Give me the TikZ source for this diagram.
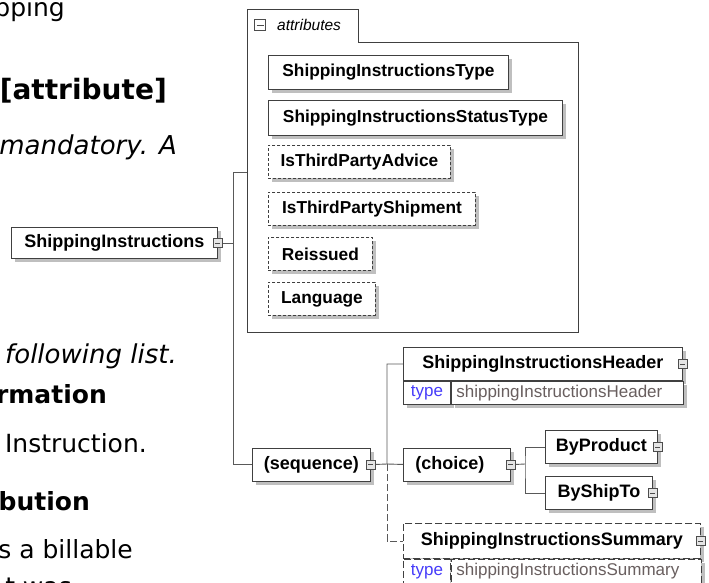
\documentclass[tikz,border=0pt]{standalone}
\usepackage{fontspec}
\usepackage{tikz}
\usetikzlibrary{calc,shadows}
\newfontfamily\docfont{DejaVu Sans}
\newfontfamily\xsfont{Liberation Sans}
\def\px#1{\fontsize{#1}{#1}\selectfont}
\definecolor{typeblue}{RGB}{70,60,250}
\definecolor{valgray}{RGB}{105,95,95}
\tikzset{
	txt/.style={anchor=base east, inner sep=0pt, font=\docfont\px{25}},
	elem/.style={draw=black!75, fill=white, line width=0.9pt, inner sep=0pt, anchor=north west, font=\xsfont\bfseries\px{18},
		drop shadow={shadow xshift=4pt, shadow yshift=-4pt, fill=black!25, opacity=1}},
	attr/.style={elem, font=\xsfont\bfseries\px{17.3}},
	opt/.style={dash pattern=on 3pt off 2pt},
	optlong/.style={dash pattern=on 7pt off 3pt},
	tcell/.style={elem, font=\xsfont\px{17}},
	minusbox/.style={draw=black!70, line width=0.6pt, inner sep=0pt,
		path picture={\draw[black!70, line width=0.6pt] ([xshift=2pt]path picture bounding box.west) -- ([xshift=-2pt]path picture bounding box.east);}},
	sq/.style={minusbox, fill=black!10, minimum size=9pt},
	conn/.style={draw=black!65, line width=0.9pt}
}

\begin{document}
\begin{tikzpicture}[x=1pt, y=-1pt]
			%%%%% START %%%%%
			\useasboundingbox (0,0) rectangle (709,583);
			
			\node[txt] (tpping) at (65,17) {pping};
			\node[txt, font=\docfont\bfseries\px{28}] (tattr) at (167,100) {[attribute]};
			\node[txt, font=\docfont\itshape\px{26}] (tmand) at (177,154) {mandatory. A};
			\node[txt, font=\docfont\itshape\px{26}] (tlist) at (177,363) {following list.};
			\node[txt, font=\docfont\bfseries\px{25}] (tinfo) at (107,403) {rmation};
			\node[txt] (tinstr) at (147,452) {Instruction.};
			\node[txt, font=\docfont\bfseries\px{25}] (tdistr) at (90,510) {bution};
			\node[txt] (tbill) at (133,558) {s a billable};
			\node[txt] (twas) at (72,595) {t was};
			
			\node[elem, minimum width=206pt, minimum height=31pt] (root) at (11,227) {ShippingInstructions};
			\node[sq] (rootsq) at (root.east) {};
			
			\draw[line width=0.9pt, draw=black!75] (247,332) -- (247,9) -- (358,9) -- (358,42) -- (578,42) -- (578,332) -- cycle;
			\node[minusbox, fill=white, minimum size=11pt] (fold) at (260,25) {};
			\node[anchor=west, inner sep=0pt, font=\xsfont\itshape\px{15.5}] (attlbl) at (277,25) {attributes};
			
			\node[attr, minimum width=240pt, minimum height=34pt] (atype) at (268,55) {ShippingInstructionsType};
			\node[attr, minimum width=294pt, minimum height=35pt] (astatus) at (268,100) {ShippingInstructionsStatusType};
			\node[attr, opt, minimum width=182pt, minimum height=33pt] (aadvice) at (268,145) {IsThirdPartyAdvice};
			\node[attr, opt, minimum width=207pt, minimum height=33pt] (aship) at (268,192) {IsThirdPartyShipment};
			\node[attr, opt, minimum width=104pt, minimum height=33pt] (areiss) at (268,237) {Reissued};
			\node[attr, opt, minimum width=107pt, minimum height=33pt] (alang) at (268,282) {Language};
			
			\node[elem, minimum width=118pt, minimum height=33pt] (seq) at (252,447.5) {(sequence)};
			\node[sq] (seqsq) at (seq.east) {};
			
			\node[elem, minimum width=279pt, minimum height=33pt] (hdr) at (403,347) {ShippingInstructionsHeader};
			\node[sq] (hdrsq) at (hdr.east) {};
			\node[tcell, text=typeblue, minimum width=47pt, minimum height=23pt] (hdrtype) at (hdr.south west) {type};
			\node[tcell, text=valgray, minimum width=232pt, minimum height=23pt, text width=222pt, align=left] (hdrval) at (hdrtype.north east) {shippingInstructionsHeader};
			
			\node[elem, minimum width=107pt, minimum height=33pt, text width=83pt, align=left] (choice) at (403,447.5) {(choice)};
			\node[sq] (chsq) at (choice.east) {};
			
			\node[elem, minimum width=112pt, minimum height=33pt] (byprod) at (545,430) {ByProduct};
			\node[sq] (byprodsq) at (byprod.east) {};
			\node[elem, minimum width=107pt, minimum height=33pt] (byship) at (545,476) {ByShipTo};
			\node[sq] (byshipsq) at (byship.east) {};
			
			\node[elem, optlong, minimum width=297pt, minimum height=35pt] (summ) at (403,523) {ShippingInstructionsSummary};
			\node[sq] (summsq) at (summ.east) {};
			\node[tcell, optlong, text=typeblue, minimum width=47pt, minimum height=24pt] (summtype) at (summ.south west) {type};
			\node[tcell, optlong, text=valgray, minimum width=250pt, minimum height=24pt, text width=240pt, align=left] (summval) at (summtype.north east) {shippingInstructionsSummary};
			
			\coordinate (attin) at (247,172);
			\coordinate (spine) at (233,172);
			\coordinate (seqfork) at (387,464);
			\coordinate (chfork) at (525,464);
			
			\draw[conn] (rootsq.east) -- (rootsq.east -| spine);
			\draw[conn] (attin) -- (spine) |- (seq.west);
			\draw[conn] (seqsq.east) -- (seqfork);
			\draw[conn] (hdr.west) -| (seqfork) -- (choice.west);
			\draw[conn, optlong] (seqfork) |- (summ.west);
			\draw[conn] (chsq.east) -- (chfork);
			\draw[conn] (byprod.west) -| (chfork) |- (byship.west);
			
			%%%%% END %%%%%
\end{tikzpicture}
\end{document}
